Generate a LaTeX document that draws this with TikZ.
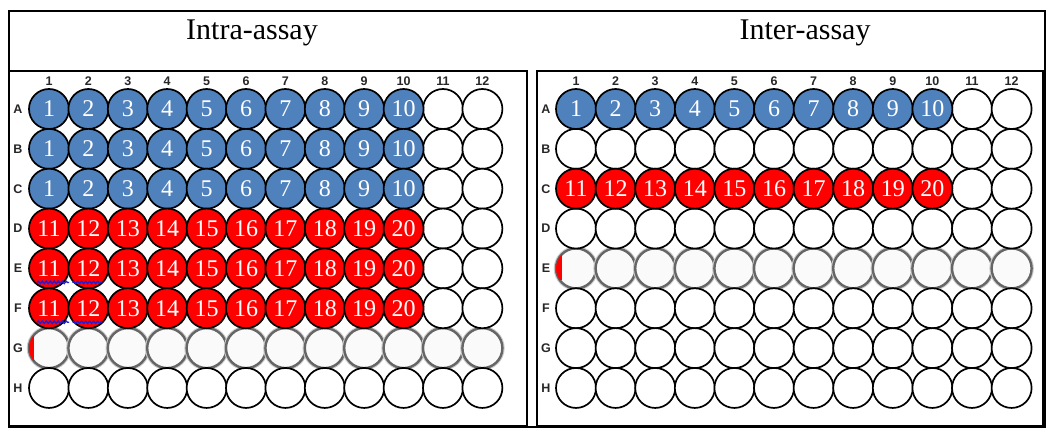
\documentclass[tikz,border=0pt]{standalone}
\usepackage{fontspec}
\setmainfont{Liberation Serif}
\setsansfont{Liberation Sans}
\usetikzlibrary{decorations.pathmorphing}
\definecolor{wblue}{HTML}{4F81BD}
\definecolor{wred}{HTML}{FF0000}
\definecolor{squig}{HTML}{1E1ED8}
\tikzset{
  well/.style={circle, draw=black, line width=1.7pt, minimum size=40pt, inner sep=0pt, fill=white,
    font=\fontsize{24}{24}\selectfont, text=white},
  bluewell/.style={well, fill=wblue},
  redwell/.style={well, fill=wred},
  blurwell/.style={circle, draw=black!60, line width=2.4pt, minimum size=40pt, inner sep=0pt, fill=white!98!black,
    preaction={draw=black!20, line width=4.5pt}},
  lab/.style={font=\sffamily\bfseries\fontsize{12.5}{12.5}\selectfont, text=black!85, inner sep=0pt},
  title/.style={font=\fontsize{30}{30}\selectfont, inner sep=0pt},
  frame/.style={draw=black, line width=1.6pt},
  pframe/.style={draw=black, line width=2pt},
  wavy/.style={draw=squig, line width=1.3pt, decorate, decoration={snake, amplitude=1.2pt, segment length=4pt}}
}
\begin{document}
\begin{tikzpicture}[x=1pt,y=-1pt]
\useasboundingbox (0,0) rectangle (1046,428);
% outer frame and titles
\draw[frame] (9,11) rectangle (1045,427);
\node[title] (t1) at (252,33) {Intra-assay};
\node[title] (t2) at (805,33) {Inter-assay};
\draw[pframe] (9,71) rectangle (527,426);
\draw[pframe] (537,71) rectangle (1043,426);

% ---------- left plate ----------
\foreach \c in {1,...,12} \node[lab] (Lc\c) at ({49+(\c-1)*39.4},81) {\c};
\foreach \r [count=\ri] in {A,...,H} \node[lab] (Lr\r) at (18,{109+(\ri-1)*39.85}) {\r};
% row G blurry, row H empty
\foreach \c in {1,...,12} \node[blurwell] (LG\c) at ({49+(\c-1)*39.4},{109+6*39.85}) {};
\foreach \c in {1,...,12} \node[well] (LH\c) at ({49+(\c-1)*39.4},{109+7*39.85}) {};
\foreach \r [count=\ri] in {A,...,F} {
  \foreach \c in {11,12} \node[well] (L\r\c) at ({49+(\c-1)*39.4},{109+(\ri-1)*39.85}) {};
}
\foreach \r [count=\ri] in {A,B,C} {
  \foreach \c in {1,...,10} \node[bluewell] (L\r\c) at ({49+(\c-1)*39.4},{109+(\ri-1)*39.85}) {\c};
}
\foreach \r [count=\ri from 4] in {D,E,F} {
  \foreach \c in {1,...,10} {
    \pgfmathtruncatemacro\n{\c+10}
    \node[redwell] (L\r\c) at ({49+(\c-1)*39.4},{109+(\ri-1)*39.85}) {\n};
  }
}
% red sliver at G1
\begin{scope}
  \clip (LG1.center) circle (20pt);
  \fill[wred] ([xshift=-22pt,yshift=12pt]LG1.center) rectangle ([xshift=-15pt,yshift=-16pt]LG1.center);
\end{scope}
% spell-check squiggles
\foreach \r in {E,F} {
  \draw[wavy] ([xshift=-12pt,yshift=-14pt]L\r1.center) -- ([xshift=20pt,yshift=-14pt]L\r1.center);
  \draw[wavy] ([xshift=-16pt,yshift=-14pt]L\r2.center) -- ([xshift=14pt,yshift=-14pt]L\r2.center);
}

% ---------- right plate ----------
\foreach \c in {1,...,12} \node[lab] (Rc\c) at ({576+(\c-1)*39.6},81) {\c};
\foreach \r [count=\ri] in {A,...,H} \node[lab] (Rr\r) at (546,{109+(\ri-1)*39.85}) {\r};
\foreach \c in {1,...,12} \node[blurwell] (RE\c) at ({576+(\c-1)*39.6},{109+4*39.85}) {};
\foreach \r [count=\ri] in {B,D,F,G,H} {
  \pgfmathtruncatemacro\ry{\ri==1 ? 1 : (\ri==2 ? 3 : \ri+2)}
  \foreach \c in {1,...,12} \node[well] (R\r\c) at ({576+(\c-1)*39.6},{109+\ry*39.85}) {};
}
\foreach \r [count=\ri from 0] in {A,C} {
  \foreach \c in {11,12} \node[well] (R\r\c) at ({576+(\c-1)*39.6},{109+2*\ri*39.85}) {};
}
\foreach \c in {1,...,10} \node[bluewell] (RA\c) at ({576+(\c-1)*39.6},109) {\c};
\foreach \c in {1,...,10} {
  \pgfmathtruncatemacro\n{\c+10}
  \node[redwell] (RC\c) at ({576+(\c-1)*39.6},{109+2*39.85}) {\n};
}
% red sliver at E1
\begin{scope}
  \clip (RE1.center) circle (20pt);
  \fill[wred] ([xshift=-22pt,yshift=-12pt]RE1.center) rectangle ([xshift=-14pt,yshift=14pt]RE1.center);
\end{scope}
\end{tikzpicture}
\end{document}
